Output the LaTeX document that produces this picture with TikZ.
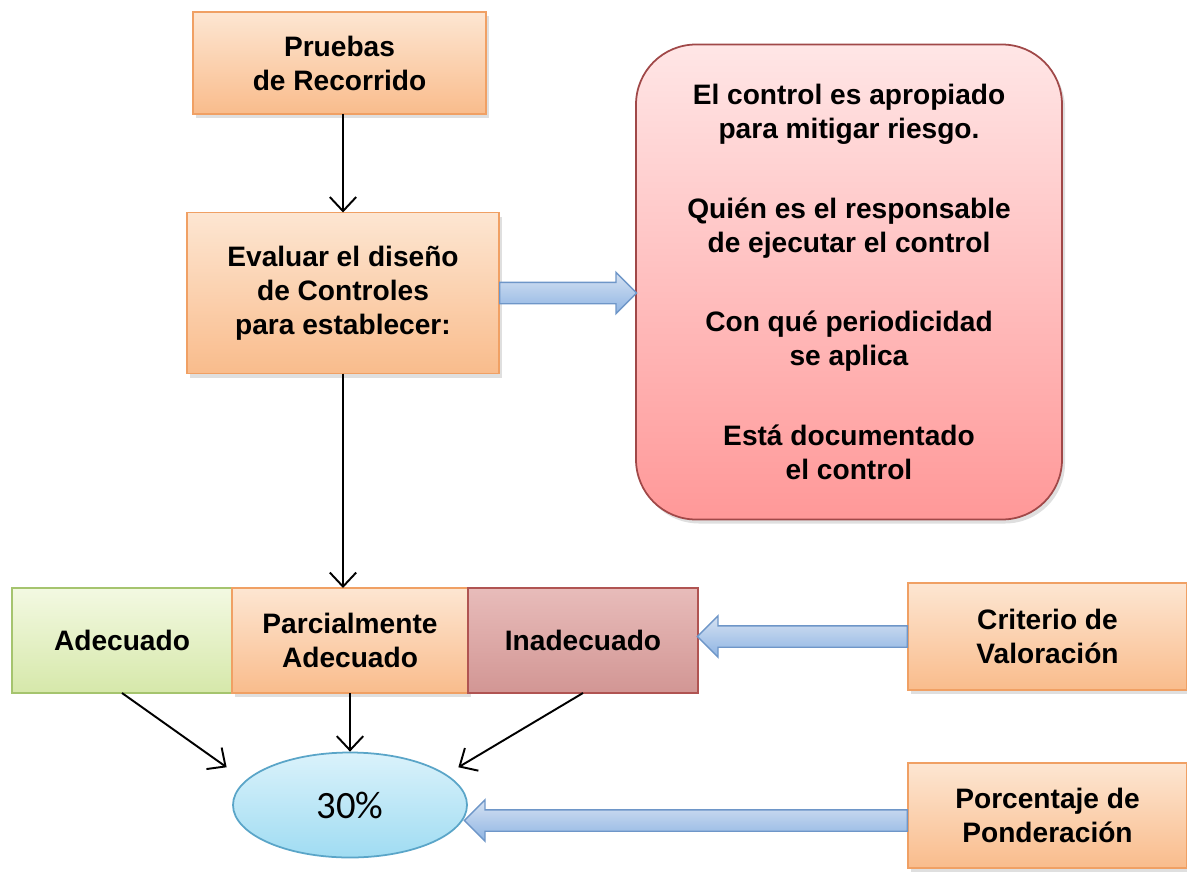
\documentclass[tikz,border=0pt]{standalone}
\usepackage{fontspec}
\setmainfont{Liberation Sans}
\newfontfamily\pctfont{Carlito}
\usepackage{tikz}
\usetikzlibrary{arrows.meta,shapes,positioning,shadows,calc}
\definecolor{orTop}{RGB}{253,230,210}
\definecolor{orBot}{RGB}{249,188,140}
\definecolor{orLine}{RGB}{240,160,100}
\definecolor{grTop}{RGB}{243,249,226}
\definecolor{grBot}{RGB}{214,232,170}
\definecolor{grLine}{RGB}{165,196,110}
\definecolor{rdTop}{RGB}{232,188,186}
\definecolor{rdBot}{RGB}{210,150,148}
\definecolor{rdLine}{RGB}{176,84,82}
\definecolor{pkTop}{RGB}{255,230,230}
\definecolor{pkBot}{RGB}{255,152,152}
\definecolor{pkLine}{RGB}{160,72,72}
\definecolor{cyTop}{RGB}{218,242,251}
\definecolor{cyBot}{RGB}{160,220,242}
\definecolor{cyLine}{RGB}{90,165,200}
\definecolor{blTop}{RGB}{214,226,242}
\definecolor{blBot}{RGB}{142,180,227}
\definecolor{blLine}{RGB}{110,150,200}
\tikzstyle{txt} = [font=\bfseries\fontsize{16}{19.3}\selectfont, align=center, inner sep=0pt, outer sep=0pt]
\tikzstyle{obox} = [txt, rectangle, draw=orLine, line width=1pt, top color=orTop, bottom color=orBot, drop shadow={opacity=0.25, shadow xshift=0.06cm, shadow yshift=-0.08cm}]
\tikzstyle{gbox} = [txt, rectangle, draw=grLine, line width=1pt, top color=grTop, bottom color=grBot]
\tikzstyle{rbox} = [txt, rectangle, draw=rdLine, line width=1pt, top color=rdTop, bottom color=rdBot]
\tikzstyle{conn} = [draw=black, line width=1.1pt, -{Straight Barb[length=8pt,width=15pt]}]
\tikzstyle{blockarrow} = [single arrow, draw=blLine, line width=0.8pt, top color=blTop, bottom color=blBot, inner sep=0pt, text height=0.4cm, text depth=0pt, minimum width=0pt, single arrow head extend=0.2cm, single arrow head indent=0pt]

\begin{document}
\begin{tikzpicture}
\useasboundingbox (0,0) rectangle (23.74,-17.44);

% Top of the flow
\node[obox, minimum width=5.86cm, minimum height=2.04cm] (pruebas) at (6.79,-1.26) {Pruebas\\de Recorrido};
\node[obox, minimum width=6.24cm, minimum height=3.22cm] (evaluar) at (6.86,-5.86) {Evaluar el diseño\\de Controles\\para establecer:};
\node[txt, draw=pkLine, line width=1pt, rounded corners=1.2cm, top color=pkTop, bottom color=pkBot,
      drop shadow={opacity=0.25, shadow xshift=0.06cm, shadow yshift=-0.08cm},
      minimum width=8.52cm, minimum height=9.5cm] (aspectos) at (16.98,-5.64)
      {El control es apropiado\\para mitigar riesgo.\\[26pt]
       Quién es el responsable\\de ejecutar el control\\[26pt]
       Con qué periodicidad\\se aplica\\[26pt]
       Está documentado\\el control};

% Valuation row
\node[gbox, minimum width=4.40cm, minimum height=2.10cm] (adecuado) at (2.44,-12.81) {Adecuado};
\node[obox, drop shadow={opacity=0}, right=0cm of adecuado, minimum width=4.72cm, minimum height=2.10cm] (parcial) {Parcialmente\\Adecuado};
\node[rbox, right=0cm of parcial, minimum width=4.60cm, minimum height=2.10cm] (inadecuado) {Inadecuado};
\node[obox, minimum width=5.58cm, minimum height=2.14cm] (criterio) at (20.95,-12.73) {Criterio de\\Valoración};

% Weight
\node[ellipse, draw=cyLine, line width=1pt, top color=cyTop, bottom color=cyBot, inner sep=0pt,
      minimum width=4.68cm, minimum height=2.10cm, font=\pctfont\fontsize{22}{24}\selectfont] (pct) at (7.0,-16.1) {30\%};
\node[obox, minimum width=5.58cm, minimum height=2.10cm] (porcentaje) at (20.95,-16.31) {Porcentaje de\\Ponderación};

% Connectors
\draw[conn] (evaluar.north |- pruebas.south) -- (evaluar.north);
\draw[conn] (evaluar.south) -- (evaluar.south |- parcial.north);
\draw[conn] (adecuado.south) -- ($(pct.north west)+(-0.8,0)$);
\draw[conn] (parcial.south) -- (pct.north);
\draw[conn] (inadecuado.south) -- ($(pct.north east)+(0.5,0)$);

% Block arrows
\node[blockarrow, minimum height=2.74cm, anchor=tail] (toaspectos) at (evaluar.east) {};
\node[blockarrow, shape border rotate=180, minimum height=4.2cm, anchor=tail] (tocriterio) at (criterio.west) {};
\node[blockarrow, shape border rotate=180, minimum height=8.86cm, anchor=tail] (topct) at ($(porcentaje.west)+(0,-0.1)$) {};
\end{tikzpicture}
\end{document}
